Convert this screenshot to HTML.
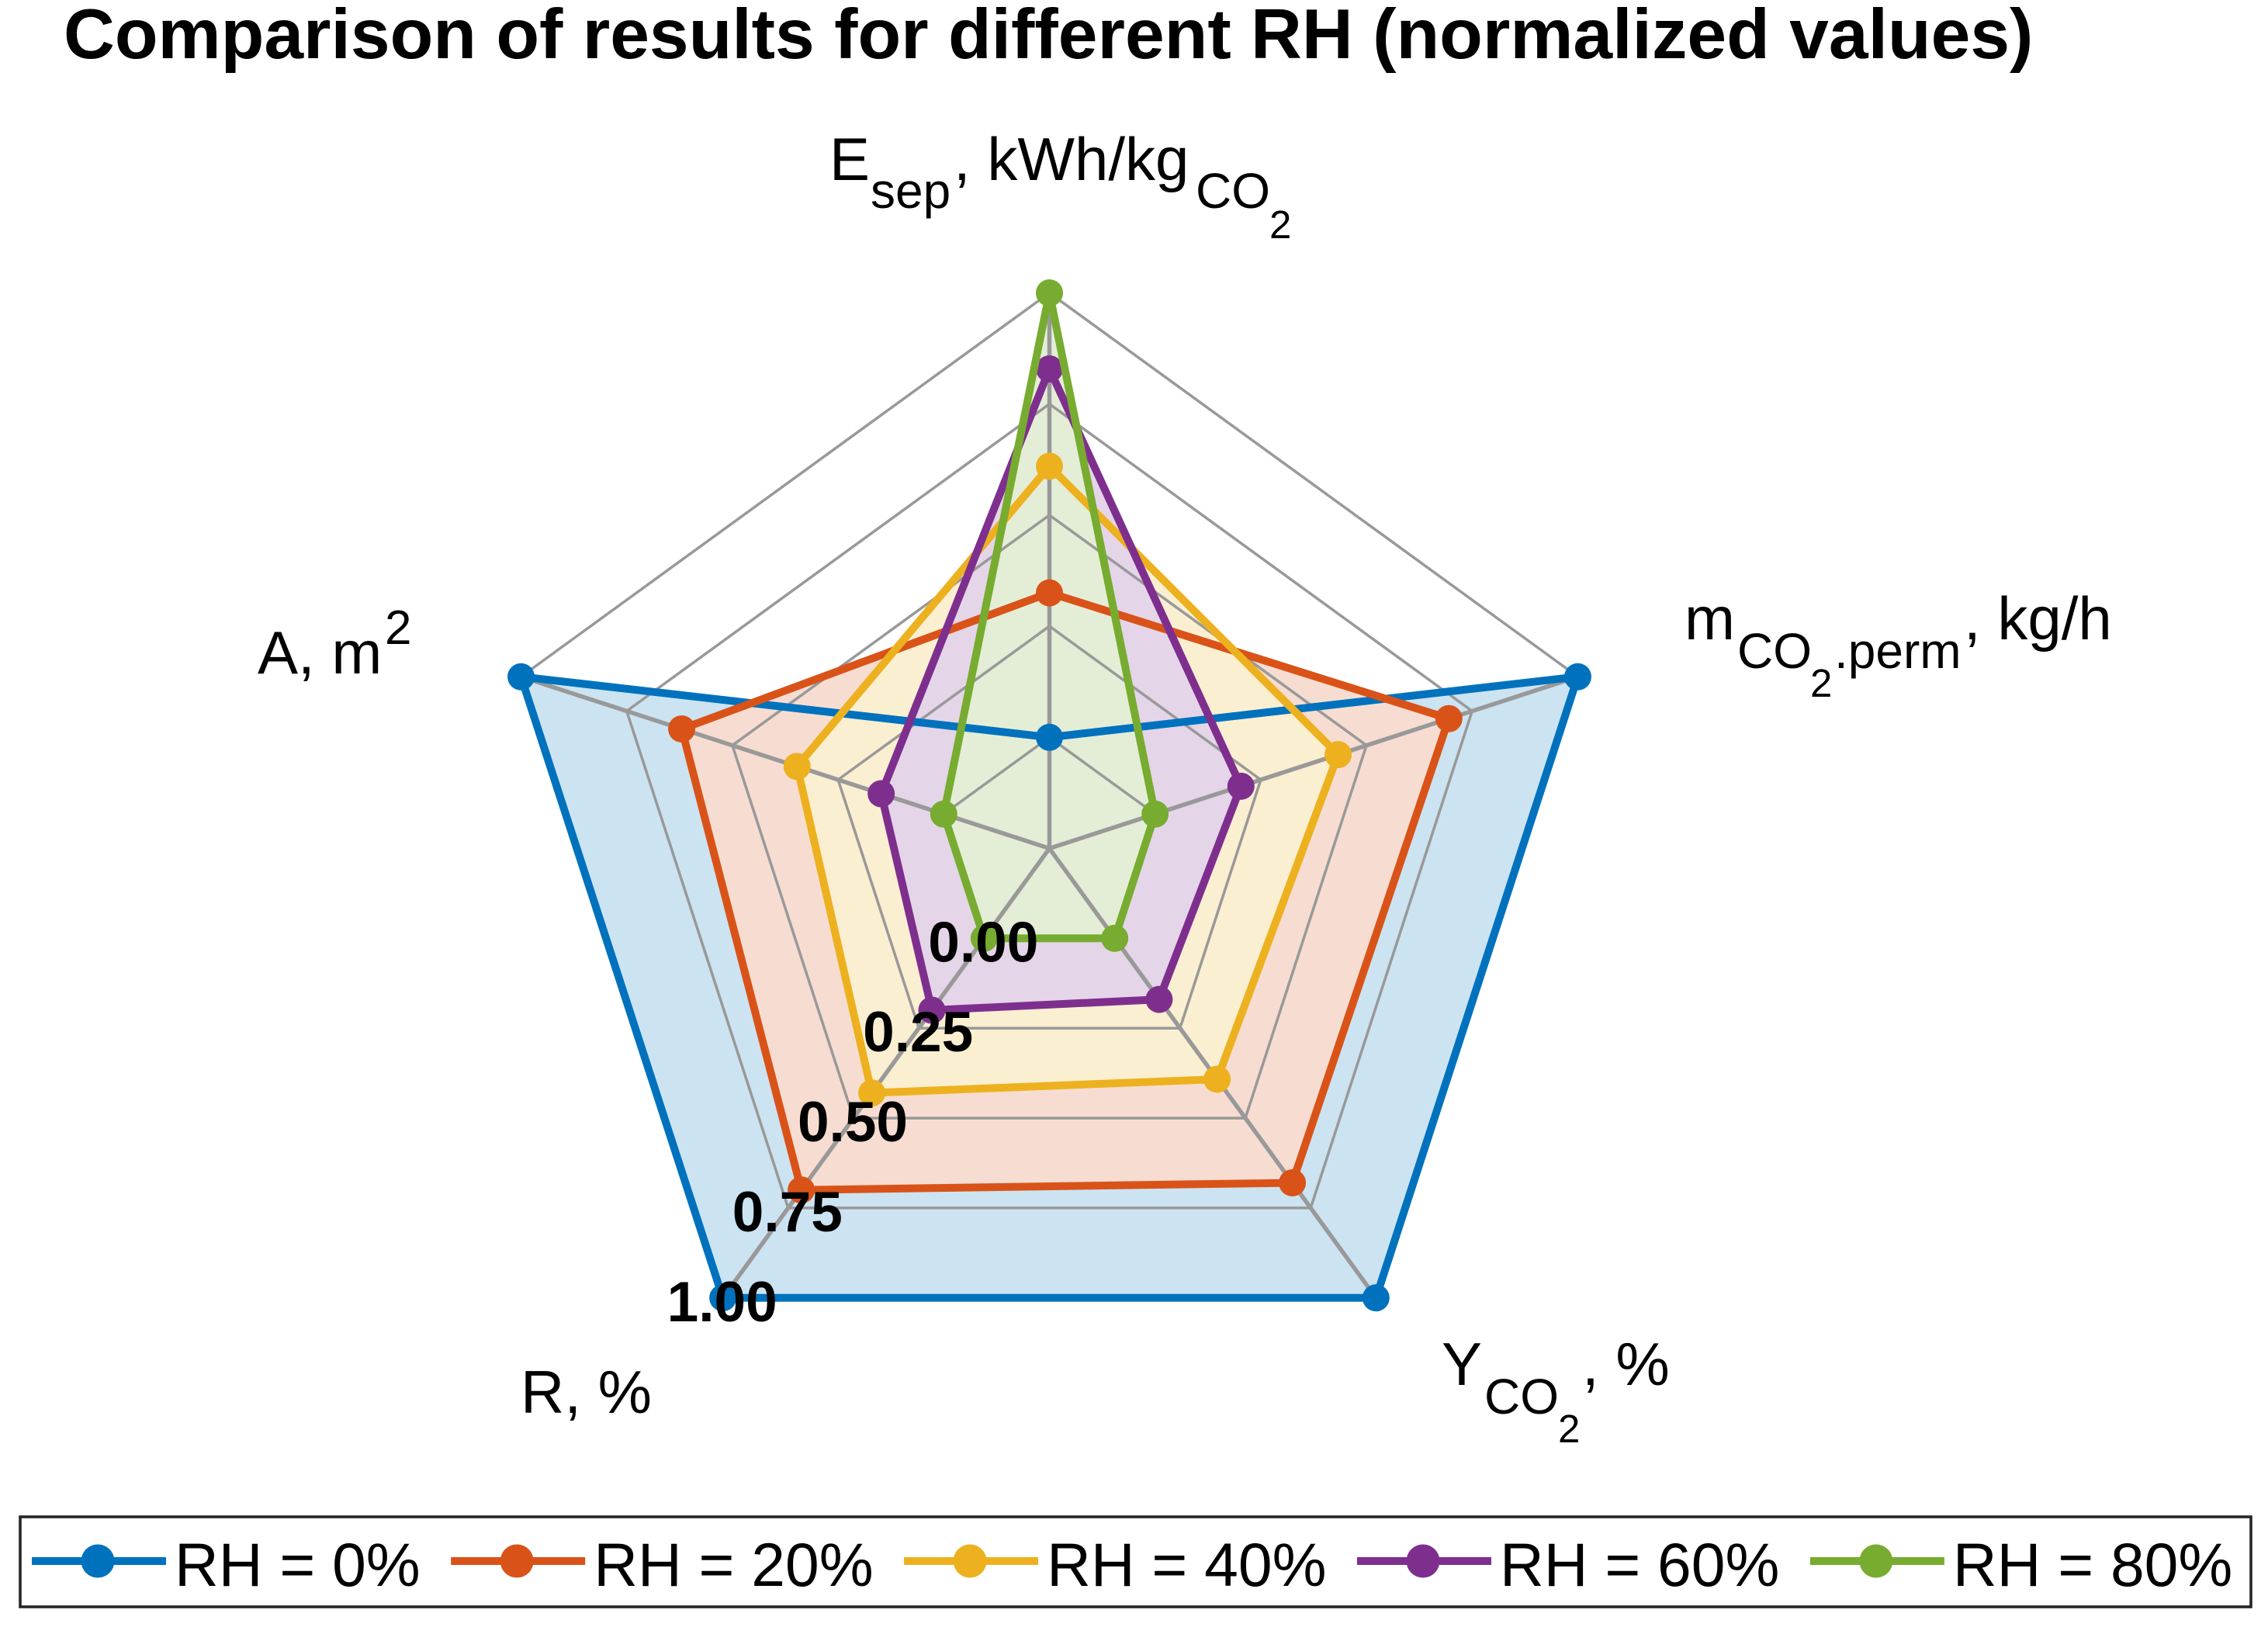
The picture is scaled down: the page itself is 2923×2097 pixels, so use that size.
<!DOCTYPE html>
<html lang="en">
<head>
<meta charset="utf-8">
<title>Comparison of results for different RH</title>
<style>
  html, body { margin: 0; padding: 0; background: #fff; }
  svg { display: block; }
  text { font-family: "Liberation Sans", Arial, sans-serif; fill: #000; }
</style>
</head>
<body>
<svg id="chart" xmlns="http://www.w3.org/2000/svg" width="2923" height="2097" viewBox="0 0 2923 2097">
  <rect x="0" y="0" width="2923" height="2097" fill="#fff"/>
  <g id="fills"></g>
  <g id="grid"></g>
  <g id="series"></g>
  <g id="ticks"></g>

  <text x="82" y="75" font-size="91.2" font-weight="bold">Comparison of results for different RH (normalized values)</text>

  <text font-size="78"><tspan x="1069" y="232">E</tspan><tspan x="1122" y="268" font-size="64">sep</tspan><tspan x="1229" y="232">, kWh/kg</tspan><tspan x="1541" y="268" font-size="64">CO</tspan><tspan x="1636" y="307" font-size="51">2</tspan></text>
  <text font-size="78"><tspan x="2171" y="824">m</tspan><tspan x="2239" y="861" font-size="64">CO</tspan><tspan x="2333" y="898" font-size="51">2</tspan><tspan x="2364" y="861" font-size="64">.perm</tspan><tspan x="2531" y="824">, kg/h</tspan></text>
  <text font-size="78"><tspan x="1858" y="1785">Y</tspan><tspan x="1913" y="1822" font-size="64">CO</tspan><tspan x="2008" y="1859" font-size="51">2</tspan><tspan x="2039" y="1785">, %</tspan></text>
  <text x="671" y="1821" font-size="78">R, %</text>
  <text font-size="78"><tspan x="332" y="868">A, m</tspan><tspan x="496" y="830" font-size="62">2</tspan></text>

  <g id="legend">
    <rect x="26" y="1955" width="2875" height="116" fill="#fff" stroke="#262626" stroke-width="3.6"/>
  </g>
</svg>

<script>
// Chart data
const categories = ["Esep", "mCO2.perm", "YCO2", "R", "A"];
const seriesNames = ["RH = 0%", "RH = 20%", "RH = 40%", "RH = 60%", "RH = 80%"];
const rh0 = [0.00, 1.00, 1.00, 1.00, 1.00];
const rh20 = [0.325, 0.695, 0.68, 0.70, 0.62];
const rh40 = [0.610, 0.433, 0.392, 0.430, 0.347];
const rh60 = [0.829, 0.203, 0.17, 0.200, 0.148];
const rh80 = [1.00, 0.00, 0.00, 0.00, 0.00];
const tickValues = [0, 0.25, 0.5, 0.75, 1];
const tickLabels = ["0.00", "0.25", "0.50", "0.75", "1.00"];

const allSeries = [rh0, rh20, rh40, rh60, rh80];
const lineColors = ["#0072BD", "#D95319", "#EDB120", "#7E2F8E", "#77AC30"];
const fillColors = ["#cce3f2", "#f7ddd1", "#fbefd1", "#e5d5e8", "#e4eed6"];

// Axis functions
const cx = 1352.5, cy = 1093.5, outerRadius = 716;
const rMin = -0.25, rMax = 1;
function radius(v) { return outerRadius * (v - rMin) / (rMax - rMin); }
function angle(i) { return -Math.PI / 2 + i * 2 * Math.PI / categories.length; }
function px(i, v) { return cx + radius(v) * Math.cos(angle(i)); }
function py(i, v) { return cy + radius(v) * Math.sin(angle(i)); }

const NS = "http://www.w3.org/2000/svg";
function make(tag, parent) {
  const el = document.createElementNS(NS, tag);
  parent.appendChild(el);
  return el;
}
function polyPoints(values) {
  return values.map(function (v, i) { return px(i, v).toFixed(1) + "," + py(i, v).toFixed(1); }).join(" ");
}

const fillsGroup = document.getElementById("fills");
const gridGroup = document.getElementById("grid");
const seriesGroup = document.getElementById("series");
const ticksGroup = document.getElementById("ticks");
const legendGroup = document.getElementById("legend");

// Fills
allSeries.forEach(function (values, s) {
  const poly = make("polygon", fillsGroup);
  
  
  poly.setAttribute("points", polyPoints(values));
  poly.setAttribute("fill", fillColors[s]);
});

// Rings
tickValues.forEach(function (t) {
  const ring = make("polygon", gridGroup);
  
  
  ring.setAttribute("points", polyPoints(categories.map(function () { return t; })));
  ring.setAttribute("fill", "none");
  ring.setAttribute("stroke", "#999999");
  ring.setAttribute("stroke-width", "3.5");
});

// Spokes
categories.forEach(function (c, i) {
  const spoke = make("line", gridGroup);
  
  
  spoke.setAttribute("x1", cx);
  spoke.setAttribute("y1", cy);
  spoke.setAttribute("x2", px(i, 1));
  spoke.setAttribute("y2", py(i, 1));
  spoke.setAttribute("stroke", "#999999");
  spoke.setAttribute("stroke-width", "5.5");
});

// Series lines and markers
allSeries.forEach(function (values, s) {
  const line = make("polygon", seriesGroup);
  
  
  line.setAttribute("points", polyPoints(values));
  line.setAttribute("fill", "none");
  line.setAttribute("stroke", lineColors[s]);
  line.setAttribute("stroke-width", "10");
  line.setAttribute("stroke-linejoin", "round");
  values.forEach(function (v, i) {
    const dot = make("circle", seriesGroup);
    
    
    dot.setAttribute("cx", px(i, v));
    dot.setAttribute("cy", py(i, v));
    dot.setAttribute("r", "17.5");
    dot.setAttribute("fill", lineColors[s]);
  });
});

// Tick labels along the R axis
const tickAxisIndex = categories.indexOf("R");
tickValues.forEach(function (t, k) {
  const label = make("text", ticksGroup);
  
  
  label.setAttribute("x", px(tickAxisIndex, t) - 1);
  label.setAttribute("y", py(tickAxisIndex, t) + 30);
  label.setAttribute("text-anchor", "middle");
  label.setAttribute("font-size", "73");
  label.setAttribute("font-weight", "bold");
  label.textContent = tickLabels[k];
});

// Legend
let legendX = 126;
const legendY = 2012;
seriesNames.forEach(function (name, s) {
  const key = make("line", legendGroup);
  
  
  key.setAttribute("x1", legendX - 85);
  key.setAttribute("x2", legendX + 88);
  key.setAttribute("y1", legendY);
  key.setAttribute("y2", legendY);
  key.setAttribute("stroke", lineColors[s]);
  key.setAttribute("stroke-width", "10");
  const dot = make("circle", legendGroup);
  
  
  dot.setAttribute("cx", legendX);
  dot.setAttribute("cy", legendY);
  dot.setAttribute("r", "21.5");
  dot.setAttribute("fill", lineColors[s]);
  const label = make("text", legendGroup);
  
  
  label.setAttribute("x", legendX + 99);
  label.setAttribute("y", 2044);
  label.setAttribute("font-size", "78.6");
  label.textContent = name;
  legendX += 99 + label.getComputedTextLength() + 124.5;
});
</script>
</body>
</html>
